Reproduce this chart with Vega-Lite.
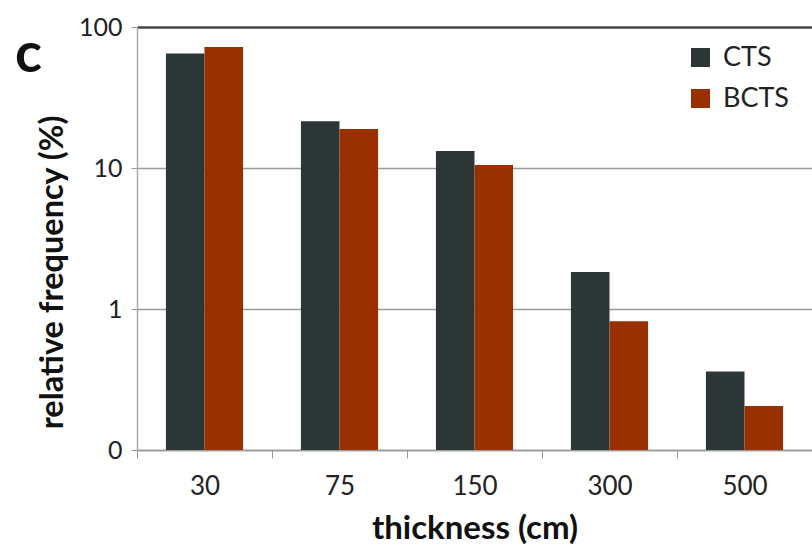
{
  "$schema": "https://vega.github.io/schema/vega-lite/v6.json",
  "autosize": {"type": "none"},
  "width": 675,
  "height": 423,
  "padding": {"left": 137, "top": 27, "right": 0, "bottom": 99},
  "background": "white",
  "title": {"text": "c", "anchor": "start", "frame": "group", "dx": -122, "dy": 73, "fontSize": 56, "fontWeight": "bold", "font": "Lato", "color": "#111"},
  "data": {
    "values": [
      {"thickness": "30", "type": "CTS", "freq": 65},
      {"thickness": "30", "type": "BCTS", "freq": 72},
      {"thickness": "75", "type": "CTS", "freq": 21.5},
      {"thickness": "75", "type": "BCTS", "freq": 18.9},
      {"thickness": "150", "type": "CTS", "freq": 13.2},
      {"thickness": "150", "type": "BCTS", "freq": 10.5},
      {"thickness": "300", "type": "CTS", "freq": 1.83},
      {"thickness": "300", "type": "BCTS", "freq": 0.82},
      {"thickness": "500", "type": "CTS", "freq": 0.36},
      {"thickness": "500", "type": "BCTS", "freq": 0.205}
    ]
  },
  "config": {
    "font": "Lato",
    "view": {"stroke": null}
  },
  "mark": {"type": "bar"},
  "encoding": {
    "x": {
      "field": "thickness", "type": "nominal", "sort": ["30", "75", "150", "300", "500"],
      "scale": {"paddingInner": 0, "paddingOuter": 0},
      "axis": {
        "title": "thickness (cm)", "titleFontSize": 33, "titleFontWeight": "bold", "titleColor": "#111",
        "titleBaseline": "alphabetic", "titleY": 88,
        "labelAngle": 0, "labelFontSize": 26, "labelColor": "#222", "labelPadding": 15,
        "tickBand": "extent", "tickSize": 8, "tickColor": "#999",
        "domainColor": "#999", "domainWidth": 1.5
      }
    },
    "xOffset": {"field": "type", "type": "nominal", "sort": ["CTS", "BCTS"], "scale": {"paddingInner": 0, "paddingOuter": 0.75}},
    "y": {
      "field": "freq", "type": "quantitative",
      "scale": {"type": "log", "domain": [0.1, 100]},
      "axis": {
        "title": "relative frequency (%)", "titleFontSize": 32.5, "titleFontWeight": "bold", "titleColor": "#111",
        "titleX": -68, "titleY": 245,
        "values": [0.1, 1, 10, 100],
        "labelExpr": "datum.value < 1 ? '0' : format(datum.value, 'd')",
        "labelFontSize": 25, "labelColor": "#222", "labelPadding": 9,
        "tickSize": 6, "tickColor": "#999",
        "domainColor": "#aaa", "domainWidth": 1.5,
        "grid": true,
        "gridColor": {"condition": {"test": "datum.value == 100", "value": "#444"}, "value": "#9a9a9a"},
        "gridWidth": {"condition": {"test": "datum.value == 100", "value": 2.5}, "value": 1.5}
      }
    },
    "y2": {"datum": 0.1},
    "color": {
      "field": "type", "type": "nominal", "sort": ["CTS", "BCTS"],
      "scale": {"domain": ["CTS", "BCTS"], "range": ["#2d3637", "#993000"]},
      "legend": {
        "title": null, "orient": "none", "legendX": 550, "legendY": 17,
        "symbolType": "square", "symbolSize": 361, "symbolStrokeWidth": 0,
        "labelFontSize": 27, "labelColor": "#222", "rowPadding": 13, "labelOffset": 9
      }
    }
  }
}
